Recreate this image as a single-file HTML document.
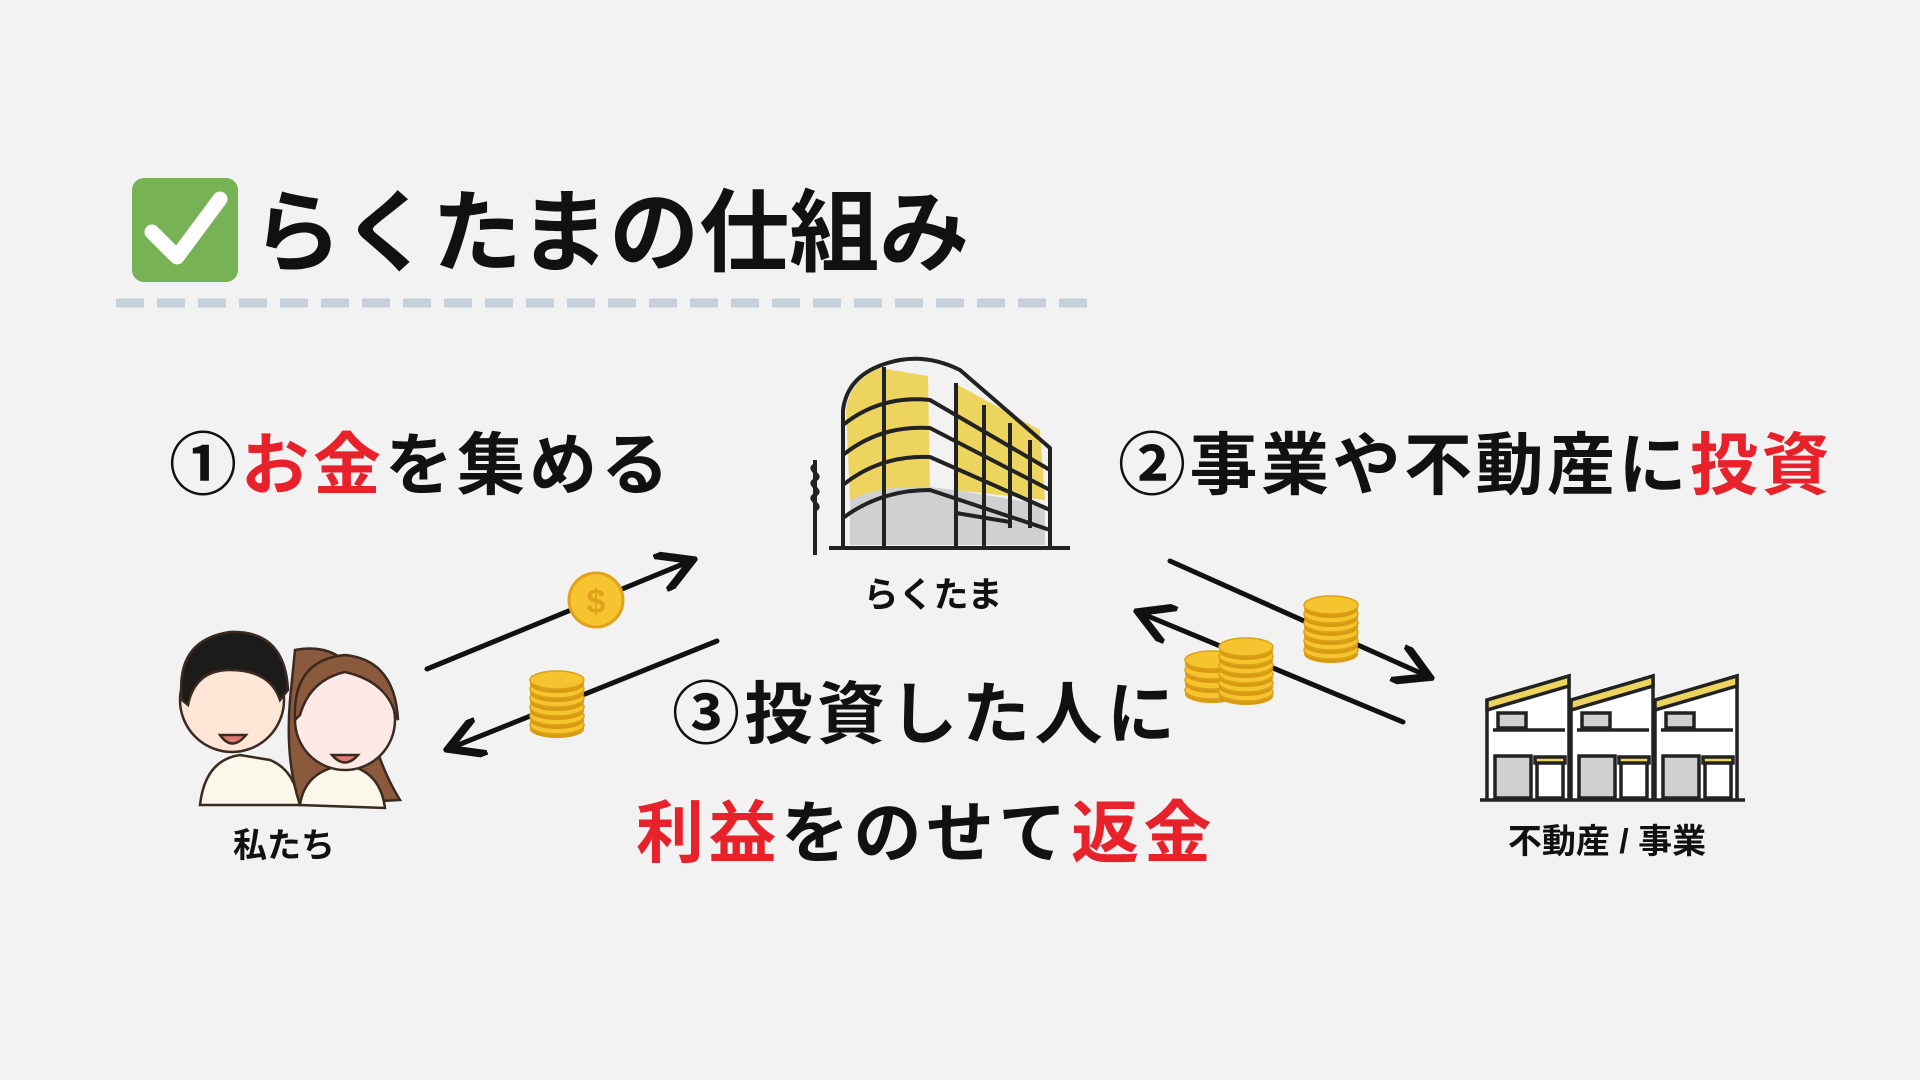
<!DOCTYPE html>
<html><head><meta charset="utf-8"><style>
html,body{margin:0;padding:0;background:#f2f2f2;}
svg{display:block}
text{font-family:"Liberation Sans","Noto Sans CJK JP",sans-serif;font-weight:700;}
</style></head><body>
<svg width="1920" height="1080" viewBox="0 0 1920 1080" xmlns="http://www.w3.org/2000/svg">
<defs>
<marker id="ah" markerWidth="8" markerHeight="8" refX="6" refY="4" orient="auto" markerUnits="strokeWidth">
<path d="M0,0 L7,4 L0,8" fill="none" stroke="#111" stroke-width="1.6" stroke-linejoin="miter"/>
</marker>
<g id="coin">
<ellipse cx="0" cy="4" rx="27" ry="9" fill="#d99a12"/>
<ellipse cx="0" cy="0" rx="27" ry="9" fill="#f6c42f" stroke="#dca21a" stroke-width="1.5"/>
</g>
</defs>
<rect width="1920" height="1080" fill="#f2f2f2"/>
<!-- title -->
<rect x="132" y="178" width="106" height="104" rx="12" fill="#77b255"/>
<path d="M152,232 L177,257 L220,199" fill="none" stroke="#fff" stroke-width="15" stroke-linecap="round" stroke-linejoin="round"/>
<text x="252" y="264" font-size="90" fill="#111">らくたまの仕組み</text>
<line x1="116" y1="303" x2="1100" y2="303" stroke="#c5d0da" stroke-width="9" stroke-dasharray="28 13"/>

<!-- headings -->
<text x="169" y="489" font-size="68" fill="#111" letter-spacing="4">①<tspan fill="#e8222b">お金</tspan>を集める</text>
<text x="1118" y="489" font-size="68" fill="#111" letter-spacing="3.5">②事業や不動産に<tspan fill="#e8222b">投資</tspan></text>
<text x="672" y="738" font-size="68" fill="#111" letter-spacing="4.5">③投資した人に</text>
<text x="636" y="857" font-size="68" fill="#e8222b" letter-spacing="4.5">利益<tspan fill="#111">をのせて</tspan>返金</text>

<!-- building -->
<g stroke="#222" stroke-width="4" fill="none" stroke-linejoin="round">
<path d="M846,410 Q850,380 880,368 L928,376 L930,490 L850,500 Z" fill="#ecd45e" stroke="none"/>
<path d="M958,385 L1040,430 L1045,500 L955,490 Z" fill="#ecd45e" stroke="none"/>
<path d="M850,500 Q880,485 930,487 L955,490 L955,545 L850,545 Z" fill="#cfd0d2" stroke="none"/>
<path d="M957,490 L1045,505 L1045,545 L957,545 Z" fill="#cfd0d2" stroke="none"/>
<path d="M843,548 L843,410 Q848,370 900,360 Q930,355 960,370 L1050,448 L1050,548"/>
<line x1="884" y1="367" x2="884" y2="548"/>
<line x1="956" y1="383" x2="956" y2="548"/>
<line x1="984" y1="405" x2="984" y2="548"/>
<line x1="1010" y1="423" x2="1010" y2="528"/>
<line x1="1030" y1="440" x2="1030" y2="528"/>
<path d="M843,425 Q880,395 930,400 L1050,470"/>
<path d="M843,455 Q880,425 930,428 L1050,490"/>
<path d="M843,485 Q880,455 930,457 L1050,510"/>
<path d="M843,518 Q880,490 930,490 L1050,530"/>
<path d="M956,513 L1010,522"/>
<line x1="829" y1="548" x2="1070" y2="548"/>
<line x1="815" y1="460" x2="815" y2="555"/>
<path d="M815,465 c-10,5 10,10 0,15 c-10,5 10,10 0,15 c-10,5 10,10 0,15" stroke-width="3.5"/>
</g>
<text x="933" y="607" font-size="35" fill="#111" text-anchor="middle">らくたま</text>

<!-- people -->
<g stroke="#3a2a20" stroke-width="2.5">
<path d="M200,805 Q205,760 240,755 L270,760 Q295,770 300,805 Z" fill="#fbf7ea"/>
<circle cx="232" cy="700" r="52" fill="#fde6d6"/>
<path d="M182,700 Q175,640 230,632 Q285,630 288,690 L280,700 Q270,670 230,670 Q195,670 188,705 Z" fill="#1b1b1b"/>
<path d="M295,650 Q350,640 365,700 Q375,760 400,800 L300,805 Q285,760 290,700 Z" fill="#8b5a3c"/>
<path d="M300,805 Q305,770 345,765 Q380,770 385,808 Z" fill="#fbf7ea"/>
<circle cx="345" cy="720" r="50" fill="#fdeae6"/>
<path d="M295,720 Q292,660 345,655 Q395,660 398,720 L392,705 Q380,680 345,672 Q310,680 300,715 Z" fill="#8b5a3c"/>
<path d="M220,735 Q232,752 246,735 Z" fill="#e07a6e"/>
<path d="M332,755 Q345,770 358,755 Z" fill="#e07a6e"/>
</g>
<text x="284" y="857" font-size="34" fill="#111" text-anchor="middle">私たち</text>

<!-- houses -->
<g stroke="#222" stroke-width="3.5" fill="#fff">
<g id="h">
<path d="M1487,800 L1487,700 L1569,676 L1569,800" />
<path d="M1487,700 L1569,676 L1569,686 L1487,710 Z" fill="#ecd45e"/>
<rect x="1498" y="713" width="28" height="15" fill="#cfd0d2"/>
<line x1="1493" y1="730" x2="1565" y2="730"/>
<rect x="1495" y="756" width="36" height="42" fill="#cfd0d2"/>
<rect x="1537" y="760" width="26" height="38"/>
<rect x="1535" y="757" width="30" height="6" fill="#ecd45e"/>
</g>
<use href="#h" x="84"/>
<use href="#h" x="168"/>
<line x1="1480" y1="800" x2="1745" y2="800"/>
</g>
<text x="1607" y="853" font-size="34" fill="#111" text-anchor="middle">不動産 / 事業</text>

<!-- arrows -->
<g stroke="#111" stroke-width="5" stroke-linecap="round">
<line x1="427" y1="669" x2="688" y2="562" marker-end="url(#ah)"/>
<line x1="717" y1="641" x2="453" y2="747" marker-end="url(#ah)"/>
<line x1="1170" y1="561" x2="1425" y2="675" marker-end="url(#ah)"/>
<line x1="1403" y1="722" x2="1143" y2="614" marker-end="url(#ah)"/>
</g>

<!-- coins -->
<circle cx="596" cy="600" r="27" fill="#f6c42f" stroke="#e0a21b" stroke-width="3"/>
<text x="596" y="613" font-size="34" fill="#e0a21b" text-anchor="middle">$</text>
<g transform="translate(557,680)">
<use href="#coin" y="45"/><use href="#coin" y="36"/><use href="#coin" y="27"/><use href="#coin" y="18"/><use href="#coin" y="9"/><use href="#coin" y="0"/>
</g>
<g transform="translate(1331,605)">
<use href="#coin" y="45"/><use href="#coin" y="36"/><use href="#coin" y="27"/><use href="#coin" y="18"/><use href="#coin" y="9"/><use href="#coin" y="0"/>
</g>
<g transform="translate(1212,660)">
<use href="#coin" y="30"/><use href="#coin" y="20"/><use href="#coin" y="10"/><use href="#coin" y="0"/>
</g>
<g transform="translate(1246,647)">
<use href="#coin" y="45"/><use href="#coin" y="36"/><use href="#coin" y="27"/><use href="#coin" y="18"/><use href="#coin" y="9"/><use href="#coin" y="0"/>
</g>
</svg>
</body></html>
